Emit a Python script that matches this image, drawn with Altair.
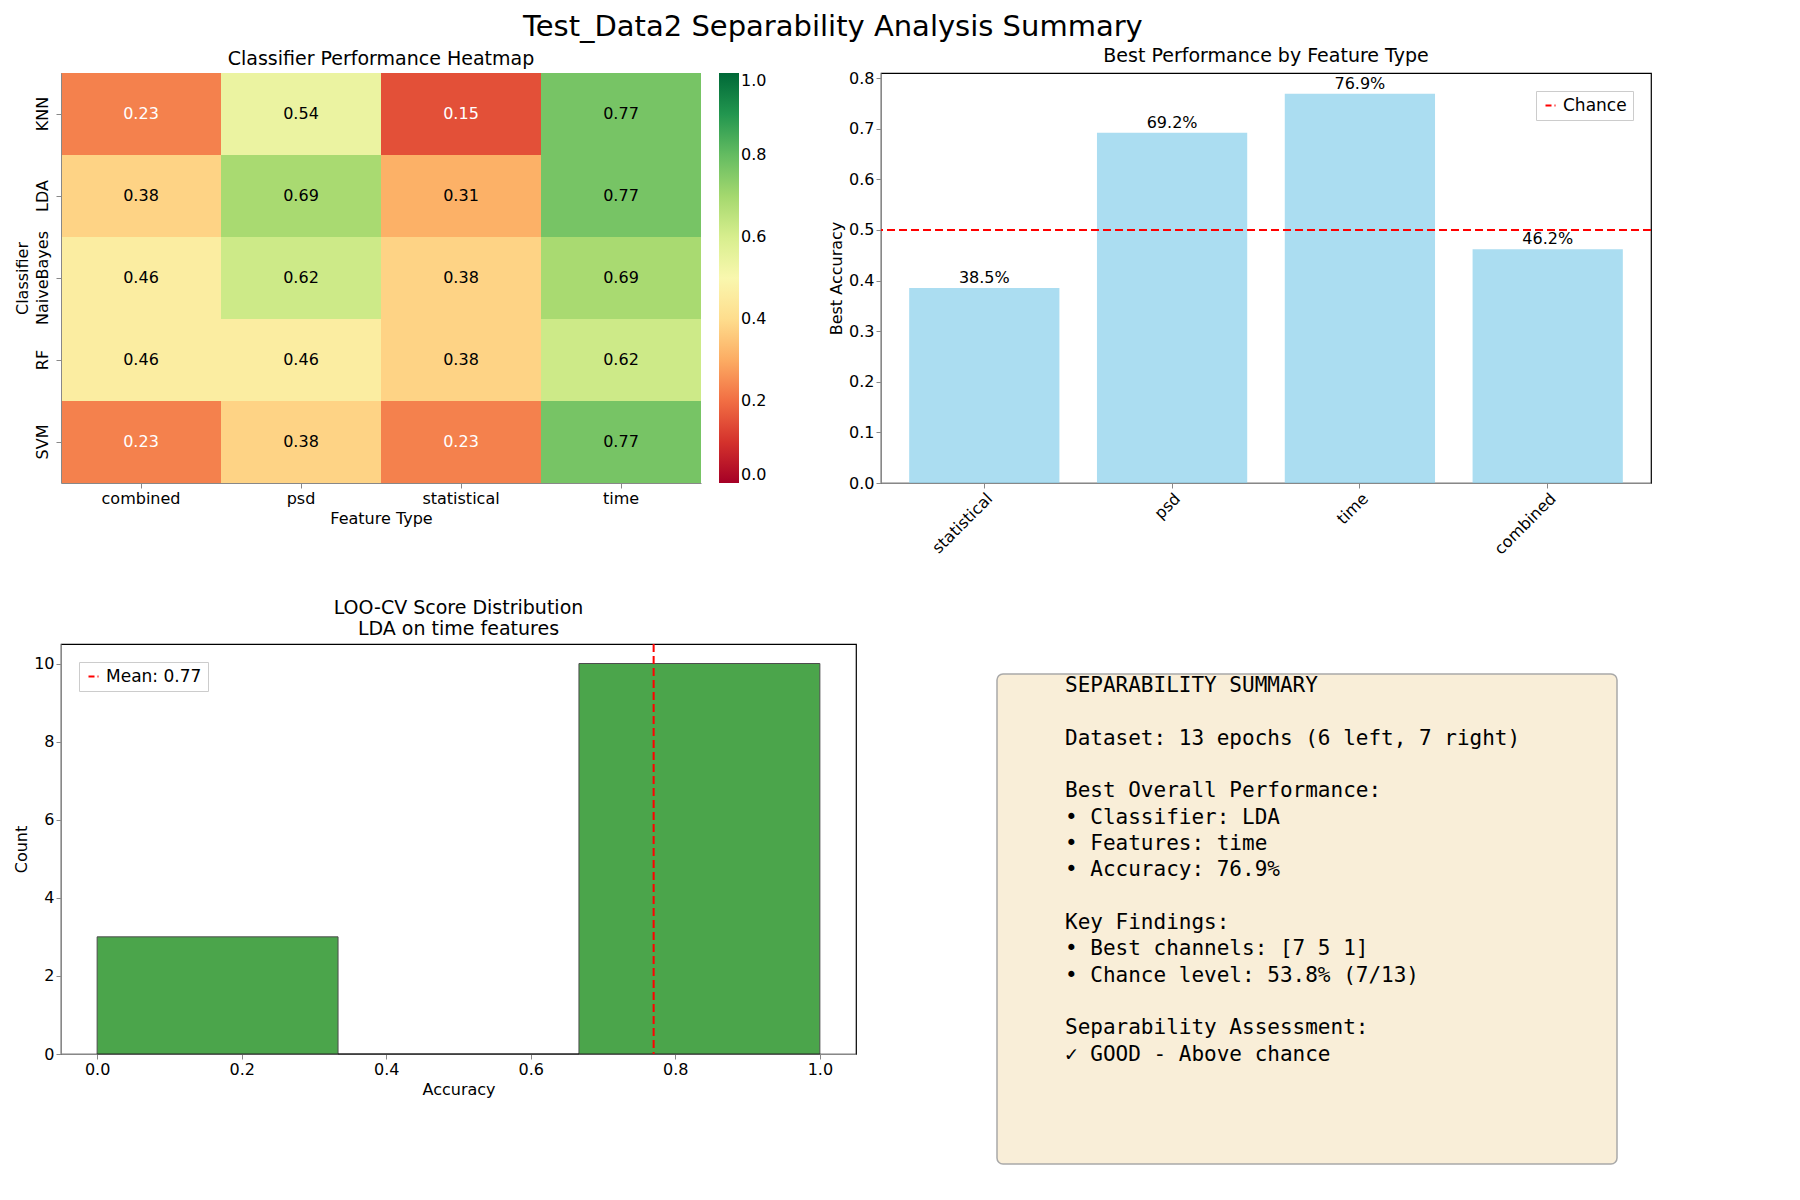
import pandas as pd
import altair as alt

classifiers = ["KNN", "LDA", "NaiveBayes", "RF", "SVM"]
feature_types = ["combined", "psd", "statistical", "time"]
scores = [
    [0.23, 0.54, 0.15, 0.77],
    [0.38, 0.69, 0.31, 0.77],
    [0.46, 0.62, 0.38, 0.69],
    [0.46, 0.46, 0.38, 0.62],
    [0.23, 0.38, 0.23, 0.77],
]
best_features = ["statistical", "psd", "time", "combined"]
best_acc = [0.385, 0.692, 0.769, 0.462]
chance = 0.5
bin_start = [0.0, 1 / 3, 2 / 3]
bin_end = [1 / 3, 2 / 3, 1.0]
bin_count = [3, 0, 10]
mean_score = 0.77
summary_lines = [
    "SEPARABILITY SUMMARY",
    "",
    "Dataset: 13 epochs (6 left, 7 right)",
    "",
    "Best Overall Performance:",
    "• Classifier: LDA",
    "• Features: time",
    "• Accuracy: 76.9%",
    "",
    "Key Findings:",
    "• Best channels: [7 5 1]",
    "• Chance level: 53.8% (7/13)",
    "",
    "Separability Assessment:",
    "✓ GOOD - Above chance",
]

FONT = "DejaVu Sans"
framed = alt.ViewBackground(stroke="black", strokeWidth=1.2)

# --- heatmap ---
hm = pd.DataFrame([
    {"clf": c, "feat": f, "score": scores[i][j]}
    for i, c in enumerate(classifiers) for j, f in enumerate(feature_types)
])
base_hm = alt.Chart(hm).encode(
    x=alt.X("feat:N", sort=feature_types, title="Feature Type",
            axis=alt.Axis(labelAngle=0, labelFontSize=16, titleFontSize=16, titleFontWeight="normal")),
    y=alt.Y("clf:N", sort=classifiers, title="Classifier",
            axis=alt.Axis(labelAngle=-90, labelFontSize=16, titleFontSize=16, titleFontWeight="normal",
                          labelAlign="center", labelBaseline="bottom", labelPadding=6)),
)
rects = base_hm.mark_rect().encode(
    color=alt.Color("score:Q", scale=alt.Scale(scheme="redyellowgreen", domain=[0, 1]),
                    legend=alt.Legend(title=None, gradientLength=410, gradientThickness=20,
                                      labelFontSize=16, tickCount=5, orient="right"))
)
cell_text = base_hm.mark_text(fontSize=16).encode(
    text=alt.Text("score:Q", format=".2f"),
    color=alt.condition(alt.datum.score < 0.25, alt.value("white"), alt.value("black")),
)
heat = (rects + cell_text).properties(
    width=640, height=410,
    title=alt.Title("Classifier Performance Heatmap", fontSize=19, fontWeight="normal"))

# --- best performance bars ---
bp = pd.DataFrame({"feat": best_features, "acc": best_acc})
bp["label"] = [f"{v*100:.1f}%" for v in best_acc]
bar_base = alt.Chart(bp).encode(
    x=alt.X("feat:N", sort=best_features, title=None, scale=alt.Scale(paddingInner=0.2, paddingOuter=0.15),
            axis=alt.Axis(labelAngle=-45, labelFontSize=16, labelAlign="right", labelBaseline="top")),
    y=alt.Y("acc:Q", title="Best Accuracy", scale=alt.Scale(domain=[0, 0.81], nice=False),
            axis=alt.Axis(values=[0, 0.1, 0.2, 0.3, 0.4, 0.5, 0.6, 0.7, 0.8], format=".1f",
                          labelFontSize=16, titleFontSize=16, titleFontWeight="normal", grid=False)),
)
bars = bar_base.mark_bar(color="skyblue", opacity=0.7)
bar_text = bar_base.mark_text(dy=-10, fontSize=16).encode(text="label:N")
chance_df = pd.DataFrame({"y": [chance], "name": ["Chance"]})
chance_rule = alt.Chart(chance_df).mark_rule(strokeDash=[8, 4], strokeWidth=2).encode(
    y="y:Q",
    color=alt.Color("name:N", scale=alt.Scale(range=["red"]),
                    legend=alt.Legend(title=None, orient="top-right", symbolType="stroke",
                                      symbolDash=[6, 3], symbolStrokeWidth=2, labelFontSize=17,
                                      fillColor="white", strokeColor="#ccc", padding=6)),
)
bar_chart = (bars + bar_text + chance_rule).properties(
    width=770, height=410, view=framed,
    title=alt.Title("Best Performance by Feature Type", fontSize=19, fontWeight="normal"))

# --- histogram ---
hist = pd.DataFrame({"start": bin_start, "end": bin_end, "count": bin_count})
hist_bars = alt.Chart(hist).mark_rect(color="green", opacity=0.7, stroke="black", strokeWidth=1).encode(
    x=alt.X("start:Q", title="Accuracy", scale=alt.Scale(domain=[-0.05, 1.05], nice=False),
            axis=alt.Axis(values=[0, 0.2, 0.4, 0.6, 0.8, 1.0], format=".1f", labelFontSize=16,
                          titleFontSize=16, titleFontWeight="normal", grid=False)),
    x2="end:Q",
    y=alt.Y("count:Q", title="Count", scale=alt.Scale(domain=[0, 10.5], nice=False),
            axis=alt.Axis(values=[0, 2, 4, 6, 8, 10], labelFontSize=16, titleFontSize=16,
                          titleFontWeight="normal", grid=False)),
    y2=alt.datum(0),
)
mean_df = pd.DataFrame({"x": [mean_score], "name": [f"Mean: {mean_score:.2f}"]})
mean_rule = alt.Chart(mean_df).mark_rule(strokeDash=[8, 4], strokeWidth=2).encode(
    x="x:Q",
    color=alt.Color("name:N", scale=alt.Scale(range=["red"]),
                    legend=alt.Legend(title=None, orient="top-left", symbolType="stroke",
                                      symbolDash=[6, 3], symbolStrokeWidth=2, labelFontSize=17,
                                      fillColor="white", strokeColor="#ccc", padding=6)),
)
hist_chart = (hist_bars + mean_rule).properties(
    width=795, height=410, view=framed,
    title=alt.Title(["LOO-CV Score Distribution", "LDA on time features"], fontSize=19, fontWeight="normal"))

# --- summary text ---
txt = pd.DataFrame({"i": list(range(len(summary_lines))), "line": summary_lines})
box = alt.Chart(pd.DataFrame({"a": [0]})).mark_rect(
    fill="wheat", opacity=0.5, stroke="#555", strokeWidth=1.5, cornerRadius=6).encode(
    x=alt.value(80), x2=alt.value(700), y=alt.value(30), y2=alt.value(520))
lines = alt.Chart(txt).mark_text(align="left", baseline="middle", font="DejaVu Sans Mono",
                                 fontSize=21).encode(
    x=alt.value(148),
    y=alt.Y("i:Q", scale=alt.Scale(domain=[-1.6, 17.4], reverse=True), axis=None),
    text="line:N",
)
text_panel = (box + lines).properties(width=700, height=500, view=alt.ViewBackground(stroke=None))

top = alt.hconcat(heat, bar_chart, spacing=60).resolve_scale(color="independent")
bottom = alt.hconcat(hist_chart, text_panel, spacing=60).resolve_scale(color="independent")
chart = alt.vconcat(top, bottom, spacing=40).resolve_scale(color="independent").properties(
    title=alt.Title("Test_Data2 Separability Analysis Summary", fontSize=29, fontWeight="normal",
                    anchor="middle")
).configure(font=FONT).configure_view(stroke=None)

chart.save("out.html", embed_options={"renderer": "svg", "actions": False})
